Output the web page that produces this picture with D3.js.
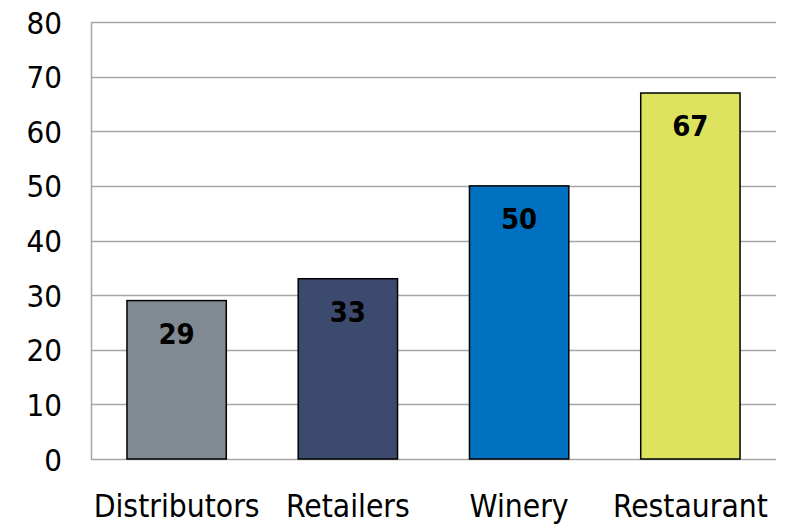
<!DOCTYPE html>
<html><head><meta charset="utf-8">
<script src="https://cdn.jsdelivr.net/npm/d3@7"></script>
<style>body{margin:0;background:#fff}svg{display:block}</style>
</head><body>
<svg id="c" width="790" height="525"></svg>
<script>
const categories = ["Distributors","Retailers","Winery","Restaurant"];
const values = [29,33,50,67];
const colors = ["#808A90","#3B4A6D","#0070C0","#DDE35E"];
const yTicks = [0,10,20,30,40,50,60,70,80];

const svg = d3.select("#c");
const m = {left:91, right:14, top:22, bottom:66};
const W = 790, H = 525;
const x = d3.scaleBand().domain(categories).range([m.left, W-m.right]).paddingInner(0.42).paddingOuter(0.21);
const y = d3.scaleLinear().domain([0,80]).range([H-m.bottom, m.top]);
const font = "'DejaVu Sans Condensed', 'DejaVu Sans', sans-serif";

// gridlines
svg.append("g").selectAll("line").data(yTicks).join("line")
  .attr("x1", m.left).attr("x2", W-m.right)
  .attr("y1", d=>Math.round(y(d))+0.5).attr("y2", d=>Math.round(y(d))+0.5)
  .attr("stroke", "#A6A6A6").attr("stroke-width", 1.5);

// left axis line
svg.append("line").attr("x1", m.left+0.5).attr("x2", m.left+0.5)
  .attr("y1", y(80)).attr("y2", y(0)).attr("stroke","#A6A6A6").attr("stroke-width",1.5);

// y tick labels
svg.append("g").selectAll("text").data(yTicks).join("text")
  .attr("x", 62).attr("y", d=>y(d)+11.5)
  .attr("text-anchor","end").attr("font-family",font).attr("font-size",31)
  .attr("fill","#000").text(d=>d);

// bars
svg.append("g").selectAll("rect").data(values).join("rect")
  .attr("x",(d,i)=>x(categories[i])).attr("width",x.bandwidth())
  .attr("y",d=>y(d)).attr("height",d=>y(0)-y(d))
  .attr("fill",(d,i)=>colors[i]).attr("stroke","#000").attr("stroke-width",1.5);

// value labels
svg.append("g").selectAll("text").data(values).join("text")
  .attr("x",(d,i)=>x(categories[i])+x.bandwidth()/2).attr("y",d=>y(d)+43)
  .attr("text-anchor","middle").attr("font-family",font).attr("font-weight","bold")
  .attr("font-size",29).attr("fill","#000").text(d=>d);

// category labels
svg.append("g").selectAll("text").data(categories).join("text")
  .attr("x",d=>x(d)+x.bandwidth()/2).attr("y",517)
  .attr("text-anchor","middle").attr("font-family",font).attr("font-size",31.5)
  .attr("fill","#000").text(d=>d);
</script>
</body></html>
